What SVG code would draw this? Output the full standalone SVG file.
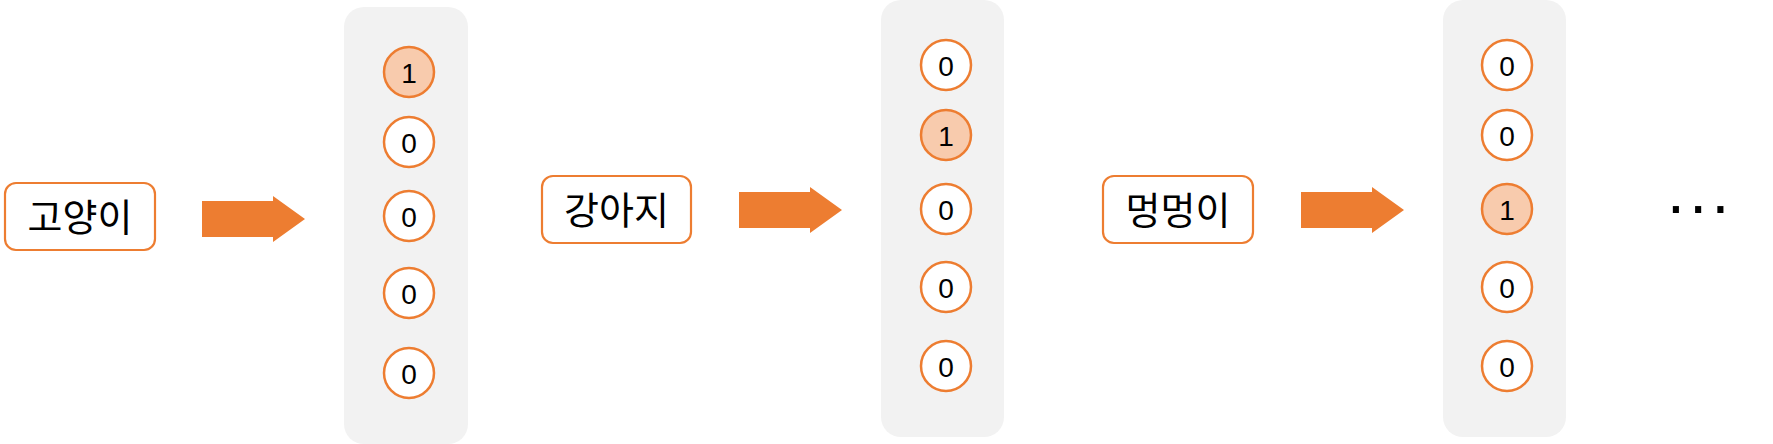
<svg xmlns="http://www.w3.org/2000/svg" width="1773" height="444" viewBox="0 0 1773 444">
<style>
.panel{fill:#F2F2F2;stroke:none}
.lbl{fill:#fff;stroke:#ED7D31;stroke-width:2.2}
.lt{font-family:"Noto Sans CJK KR","Noto Sans",sans-serif;font-size:38px;fill:#000;text-anchor:middle}
.c0{fill:#fff;stroke:#ED7D31;stroke-width:2.5}
.c1{fill:#F8CBAD;stroke:#ED7D31;stroke-width:2.5}
.d{font-family:"Liberation Sans",Arial,sans-serif;font-size:28px;fill:#000;text-anchor:middle}
.arr{fill:#ED7D31;stroke:none}
.dots{font-family:"Liberation Sans",Arial,sans-serif;font-size:64px;fill:#000;letter-spacing:4.5px}
</style>
<g id="word1">
<rect class="lbl" x="5" y="183" width="150" height="67" rx="11"/>
<text class="lt" x="80" y="230.5">고양이</text>
</g>
<g id="word2">
<rect class="lbl" x="542" y="176" width="149" height="67" rx="11"/>
<text class="lt" x="616.5" y="223.5">강아지</text>
</g>
<g id="word3">
<rect class="lbl" x="1103" y="176" width="150" height="67" rx="11"/>
<text class="lt" x="1178" y="223.5">멍멍이</text>
</g>
<g id="vector1">
<rect class="panel" x="344" y="7" width="124" height="437" rx="20"/>
<circle class="c1" cx="409" cy="72" r="25"/><text class="d" x="409" y="82.5">1</text>
<circle class="c0" cx="409" cy="142" r="25"/><text class="d" x="409" y="152.5">0</text>
<circle class="c0" cx="409" cy="216" r="25"/><text class="d" x="409" y="226.5">0</text>
<circle class="c0" cx="409" cy="293" r="25"/><text class="d" x="409" y="303.5">0</text>
<circle class="c0" cx="409" cy="373" r="25"/><text class="d" x="409" y="383.5">0</text>
</g>
<g id="vector2">
<rect class="panel" x="881" y="0" width="123" height="437" rx="20"/>
<circle class="c0" cx="946" cy="65" r="25"/><text class="d" x="946" y="75.5">0</text>
<circle class="c1" cx="946" cy="135" r="25"/><text class="d" x="946" y="145.5">1</text>
<circle class="c0" cx="946" cy="209" r="25"/><text class="d" x="946" y="219.5">0</text>
<circle class="c0" cx="946" cy="287" r="25"/><text class="d" x="946" y="297.5">0</text>
<circle class="c0" cx="946" cy="366" r="25"/><text class="d" x="946" y="376.5">0</text>
</g>
<g id="vector3">
<rect class="panel" x="1443" y="0" width="123" height="437" rx="20"/>
<circle class="c0" cx="1507" cy="65" r="25"/><text class="d" x="1507" y="75.5">0</text>
<circle class="c0" cx="1507" cy="135" r="25"/><text class="d" x="1507" y="145.5">0</text>
<circle class="c1" cx="1507" cy="209" r="25"/><text class="d" x="1507" y="219.5">1</text>
<circle class="c0" cx="1507" cy="287" r="25"/><text class="d" x="1507" y="297.5">0</text>
<circle class="c0" cx="1507" cy="366" r="25"/><text class="d" x="1507" y="376.5">0</text>
</g>
<g id="ellipsis">
<text class="dots" x="1667" y="213">...</text>
</g>
<g id="connectors">
<polygon class="arr" points="202,201 273,201 273,196 305,219 273,242 273,237 202,237"/>
<polygon class="arr" points="739,192 810,192 810,187 842,210 810,233 810,228 739,228"/>
<polygon class="arr" points="1301,192 1372,192 1372,187 1404,210 1372,233 1372,228 1301,228"/>
</g>
</svg>
